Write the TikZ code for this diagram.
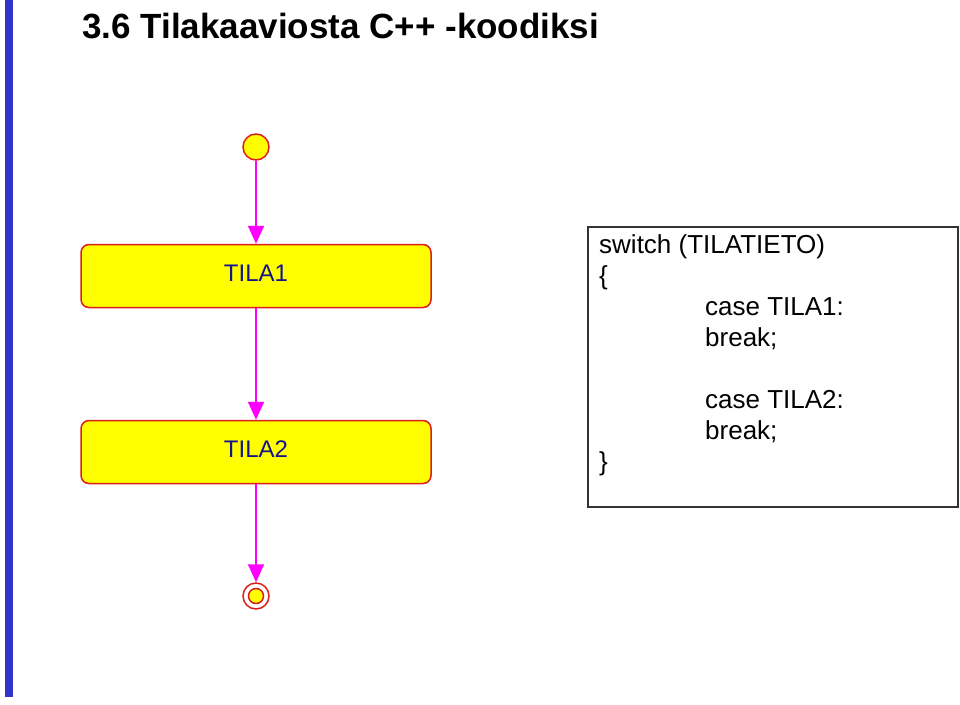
\documentclass[tikz,border=0pt]{standalone}
\usepackage{fontspec}
\setmainfont{Liberation Sans}
\usetikzlibrary{arrows.meta}
\definecolor{barblue}{RGB}{51,51,204}
\definecolor{statered}{RGB}{220,30,30}
\definecolor{stateyellow}{RGB}{255,255,0}
\definecolor{statetext}{RGB}{20,20,140}
\definecolor{trmag}{RGB}{255,0,255}
\tikzset{
  statebox/.style={draw=statered, fill=stateyellow, line width=1.5pt, rounded corners=8pt,
    minimum width=350pt, minimum height=63pt, inner sep=0pt, text height=17pt, text depth=7pt,
    font=\fontsize{24}{24}\selectfont, text=statetext},
  initst/.style={circle, draw=statered, fill=stateyellow, line width=1.5pt, minimum size=26pt, inner sep=0pt},
  finout/.style={circle, draw=statered, fill=white, line width=1.5pt, minimum size=26pt, inner sep=0pt},
  finin/.style={circle, draw=statered, fill=stateyellow, line width=1.5pt, minimum size=15pt, inner sep=0pt},
  trans/.style={draw=trmag, line width=1.6pt, -{Triangle[width=16pt,length=18pt]}, trmag},
  codeline/.style={anchor=base west, inner sep=0pt, font=\fontsize{26}{26}\selectfont},
}
\begin{document}
\begin{tikzpicture}[x=1pt,y=-1pt]
\useasboundingbox (0,0) rectangle (960,704);
\fill[barblue] (5,0) rectangle (13,697);
\node[anchor=base west, inner sep=0pt, font=\fontsize{35}{35}\selectfont\bfseries] (title) at (82,38) {3.6 Tilakaaviosta C++ -koodiksi};
\node[initst] (init) at (256,147) {};
\node[statebox] (t1) at (256,276) {TILA1};
\node[statebox] (t2) at (256,452) {TILA2};
\node[finout] (fin) at (256,596) {};
\node[finin] (finc) at (256,596) {};
\draw[trans] (init) -- (t1);
\draw[trans] (t1) -- (t2);
\draw[trans] (t2) -- (fin);
\node[draw=black!80, line width=1.2pt, minimum width=370pt, minimum height=280pt, inner sep=0pt] (code) at (773,367) {};
\node[codeline] (l1) at (599,253) {switch (TILATIETO)};
\node[codeline] (l2) at (599,284) {\{};
\node[codeline] (l3) at (705,315) {case TILA1:};
\node[codeline] (l4) at (705,346) {break;};
\node[codeline] (l5) at (705,408) {case TILA2:};
\node[codeline] (l6) at (705,439) {break;};
\node[codeline] (l7) at (599,470) {\}};
\end{tikzpicture}
\end{document}
